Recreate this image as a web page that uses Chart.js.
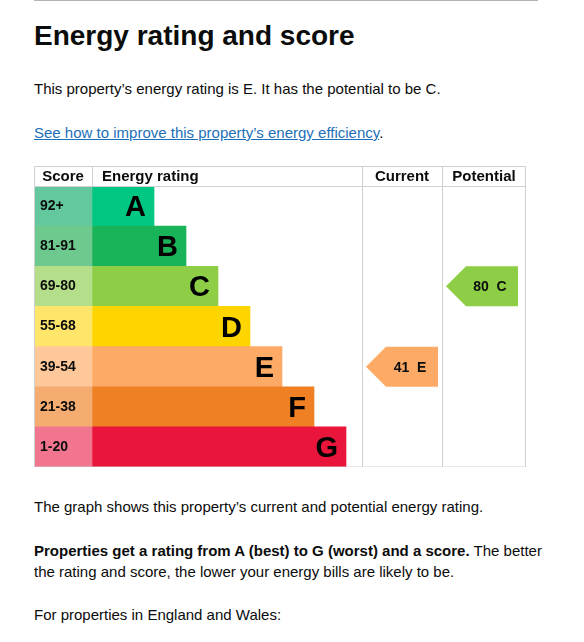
<!DOCTYPE html>
<html><head><meta charset="utf-8">
<script src="https://cdn.jsdelivr.net/npm/chart.js@4"></script>
<style>
body{margin:0;background:#fff;font-family:"Liberation Sans",Arial,sans-serif;color:#0b0c0c;width:584px;height:642px;overflow:hidden;position:relative}
.rule{position:absolute;left:34px;top:0;width:504px;border-top:1px solid #b1b4b6}
h1{position:absolute;left:34px;top:20px;margin:0;font-size:28px;font-weight:bold}
p{position:absolute;left:34px;margin:0;font-size:15px;line-height:21px;width:510px}
a{color:#1d70b8}
#wrap{position:absolute;left:34px;top:166px;width:492px;height:301px}
</style></head><body>
<div class="rule"></div>
<h1>Energy rating and score</h1>
<p style="top:78px">This property’s energy rating is E. It has the potential to be C.</p>
<p style="top:122px"><a href="#">See how to improve this property’s energy efficiency</a>.</p>
<div id="wrap"><canvas id="c"></canvas></div>
<p style="top:496px">The graph shows this property’s current and potential energy rating.</p>
<p style="top:540px"><b>Properties get a rating from A (best) to G (worst) and a score.</b> The better the rating and score, the lower your energy bills are likely to be.</p>
<p style="top:604px">For properties in England and Wales:</p>
<script>
const bands=["A","B","C","D","E","F","G"];
const scoreRanges=["92+","81-91","69-80","55-68","39-54","21-38","1-20"];
const bandMins=[92,81,69,55,39,21,1];
const ratingLengths=[62,94,126,158,190,222,254];
const bandColors=["#00c781","#19b459","#8dce46","#ffd500","#fcaa65","#ef8023","#e9153b"];
const scoreColors=["#64c89f","#6ec98e","#b5de8a","#ffe56a","#fec89a","#f5ac71","#f27590"];
const currentScore=41, potentialScore=80;
const headers=["Score","Energy rating","Current","Potential"];
const SCORE_W=58, CUR_X=328, POT_X=408, END_X=492;
function bandOf(s){return bandMins.findIndex(m=>s>=m);}
const plug={id:'epc',
 afterDatasetsDraw(ch){
  const {ctx,scales:{x,y},chartArea:a}=ch;
  ctx.save();
  ctx.strokeStyle="#d0d0d0";ctx.lineWidth=1;
  const L=x.getPixelForValue(0),R=x.getPixelForValue(END_X);
  ctx.strokeRect(L+0.5,0.5,R-L-1,a.bottom-0.5);
  ctx.beginPath();ctx.moveTo(L,20.5);ctx.lineTo(R,20.5);
  [SCORE_W,CUR_X,POT_X].forEach((v,i)=>{const px=Math.round(x.getPixelForValue(v))+0.5;ctx.moveTo(px,0);ctx.lineTo(px,i==0?20:a.bottom);});
  ctx.stroke();
  ctx.fillStyle="#0b0c0c";ctx.font="bold 15px 'Liberation Sans',Arial";ctx.textBaseline="middle";
  ctx.textAlign="center";ctx.fillText(headers[0],x.getPixelForValue(SCORE_W/2),11);
  ctx.textAlign="left";ctx.fillText(headers[1],x.getPixelForValue(SCORE_W+10),11);
  ctx.textAlign="center";ctx.fillText(headers[2],x.getPixelForValue((CUR_X+POT_X)/2),11);
  ctx.fillText(headers[3],x.getPixelForValue((POT_X+END_X)/2),11);
  bands.forEach((b,i)=>{const cy=y.getPixelForValue(i);
   ctx.font="bold 14px 'Liberation Sans',Arial";ctx.textAlign="left";ctx.fillStyle="#0b0c0c";
   ctx.fillText(scoreRanges[i],x.getPixelForValue(6),cy);
   ctx.font="bold 29px 'Liberation Sans',Arial";ctx.textAlign="right";ctx.fillStyle="#000";
   ctx.fillText(b,x.getPixelForValue(SCORE_W+ratingLengths[i]-8),cy+2);});
  [[currentScore,CUR_X],[potentialScore,POT_X]].forEach(([s,x0])=>{
   const i=bandOf(s),cy=y.getPixelForValue(i),l=x.getPixelForValue(x0+4),r=x.getPixelForValue(x0+76),h=20;
   ctx.fillStyle=bandColors[i];ctx.beginPath();ctx.moveTo(l,cy);ctx.lineTo(l+20,cy-h);ctx.lineTo(r,cy-h);ctx.lineTo(r,cy+h);ctx.lineTo(l+20,cy+h);ctx.closePath();ctx.fill();
   ctx.fillStyle="#0b0c0c";ctx.font="bold 14px 'Liberation Sans',Arial";ctx.textAlign="center";
   ctx.fillText(s+"  "+bands[i],(l+r)/2+8,cy+1);});
  ctx.restore();}};
new Chart(document.getElementById('c'),{type:'bar',
 data:{labels:bands,datasets:[
  {data:bands.map(()=>[0,SCORE_W]),backgroundColor:scoreColors,grouped:false},
  {data:ratingLengths.map(v=>[SCORE_W,SCORE_W+v]),backgroundColor:bandColors,grouped:false}]},
 options:{indexAxis:'y',responsive:true,maintainAspectRatio:false,animation:false,
  layout:{padding:{top:20,left:0,right:0,bottom:0}},
  datasets:{bar:{barPercentage:1,categoryPercentage:1,borderWidth:0}},
  plugins:{legend:{display:false},tooltip:{enabled:false}},
  scales:{x:{type:'linear',min:0,max:END_X,display:false},y:{display:false}}},
 plugins:[plug]});
</script></body></html>
